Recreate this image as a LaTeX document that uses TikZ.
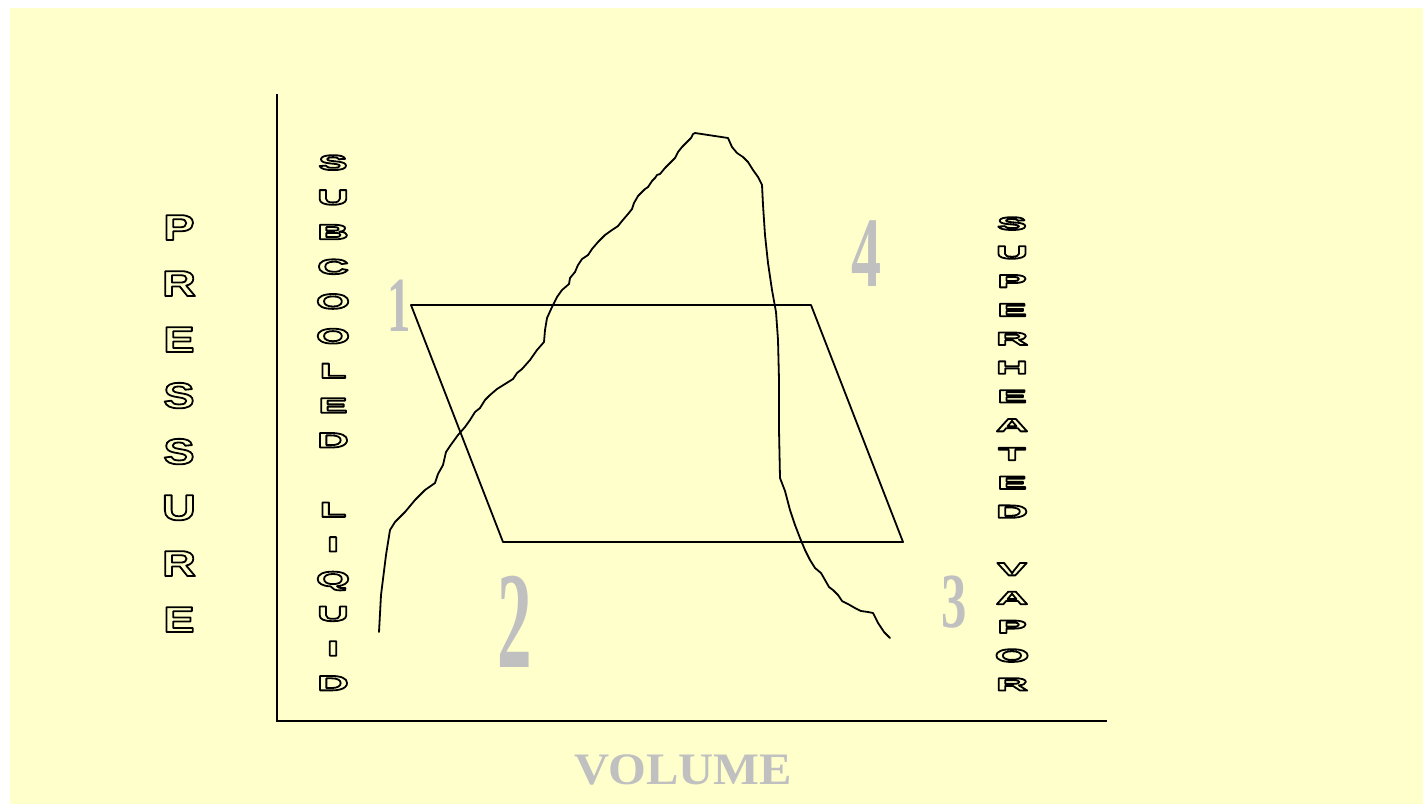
\documentclass[tikz,border=0pt]{standalone}
\usepackage{fontspec}
\usepackage{graphicx}
\setmainfont{Liberation Serif}
\newfontfamily\presfont[FakeStretch=1.3]{Liberation Sans}
\newfontfamily\subfont[FakeStretch=2.1]{Liberation Sans}
\newfontfamily\supfont[FakeStretch=2.5]{Liberation Sans}
\usetikzlibrary{positioning}
\definecolor{paper}{HTML}{FFFFCC}
\definecolor{numgray}{HTML}{C0C0C0}
% outlined (stroked only) letters
\newcommand\hollowon{\special{pdf:literal direct 1 Tr 1.8 w 1 j}}
\newcommand\hollowoff{\special{pdf:literal direct 0 Tr}}

\begin{document}
\begin{tikzpicture}[x=1pt, y=-1pt,
    letters/.style={inner sep=0pt, align=center, anchor=north},
    digit/.style={inner sep=0pt, text=numgray},
    curve/.style={line width=1.8pt, line join=round, line cap=round},
    axis/.style={line width=1.8pt}]
    \useasboundingbox (0,0) rectangle (1423,804);
    \fill[paper] (10,8) rectangle (1423,804);

    % Axes
    \coordinate (ytop) at (277,94);
    \coordinate (origin) at (277,721);
    \coordinate (xend) at (1107,721);
    \draw[axis] (ytop) -- (origin) -- (xend);

    % Cycle 1-2-3-4
    \coordinate (s1) at (411,305);
    \coordinate (s2) at (503,542);
    \coordinate (s3) at (903,542);
    \coordinate (s4) at (811,305);
    \draw[curve] (s1) -- (s2) -- (s3) -- (s4) -- cycle;

    % Saturation dome
    \draw[curve] plot coordinates {(379,632) (381,595) (386,555) (390,530) (395,522)
        (405,512) (415,500) (425,490) (435,483) (438,474) (443,465) (446,452)
        (450,446) (458,435) (465,427) (470,420) (475,412) (480,408) (485,400)
        (490,395) (497,389) (505,384) (513,379) (517,373) (522,369) (530,360)
        (537,350) (544,342) (545,330) (547,318) (552,307) (557,297) (562,290)
        (569,284) (570,278) (575,272) (578,265) (582,259) (588,255) (592,249)
        (598,242) (605,235) (612,230) (618,226) (622,221) (628,214) (632,209)
        (634,203) (638,196) (645,189) (648,187) (652,181) (655,178) (657,175)
        (660,174) (665,168) (670,163) (675,158) (678,152) (682,147) (688,141)
        (691,138) (693,134) (695,133) (728,138) (732,147) (737,153) (743,157)
        (748,162) (753,170) (758,177) (762,185) (763,205) (765,235) (768,263)
        (772,290) (776,312) (778,340) (779,380) (779,430) (780,478) (785,491)
        (790,510) (795,525) (800,538) (805,550) (810,560) (815,568) (821,573)
        (825,580) (829,587) (833,590) (838,595) (842,601) (848,604) (855,608)
        (861,611) (868,612) (873,613) (878,623) (884,632) (890,638)};

    % State numbers
    \node[digit, font=\bfseries\fontsize{78}{78}\selectfont] (n1) at (399,306) {\scalebox{0.6}[1]{1}};
    \node[digit, font=\bfseries\fontsize{138}{138}\selectfont] (n2) at (515,622) {\scalebox{0.5}[1]{2}};
    \node[digit, font=\bfseries\fontsize{78}{78}\selectfont] (n3) at (954,602) {\scalebox{0.65}[1]{3}};
    \node[digit, font=\bfseries\fontsize{100}{100}\selectfont] (n4) at (866,254) {\scalebox{0.6}[1]{4}};

    % Axis and region labels
    \node[digit, font=\bfseries\fontsize{45}{45}\selectfont] (volume) at (683,770) {\scalebox{1.08}[1]{VOLUME}};
    \node[letters, font=\presfont\bfseries\fontsize{36}{56}\selectfont] (pressure) at (179,215)
        {\hollowon P\\R\\E\\S\\S\\U\\R\\E\hollowoff};
    \node[letters, font=\subfont\bfseries\fontsize{21}{34.7}\selectfont] (subliquid) at (333,155)
        {\hollowon S\\U\\B\\C\\O\\O\\L\\E\\D\\[34.7pt]L\\I\\Q\\U\\I\\D\hollowoff};
    \node[letters, font=\supfont\bfseries\fontsize{18}{28.8}\selectfont] (supvapor) at (1012,217)
        {\hollowon S\\U\\P\\E\\R\\H\\E\\A\\T\\E\\D\\[28.8pt]V\\A\\P\\O\\R\hollowoff};
\end{tikzpicture}
\end{document}
